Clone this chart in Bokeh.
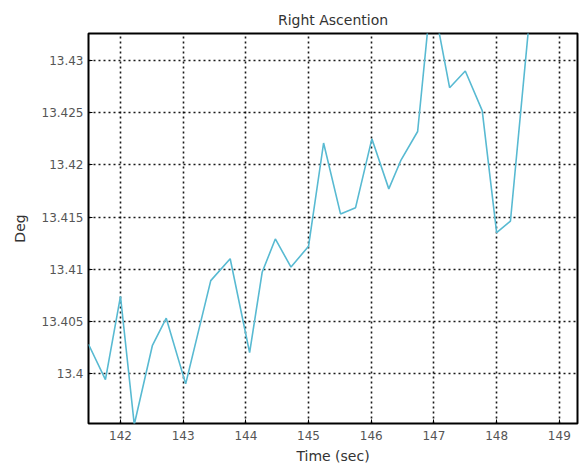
from bokeh.plotting import figure
from bokeh.models import FixedTicker, Range1d, ColumnDataSource
from bokeh.embed import file_html
from bokeh.resources import INLINE

time_sec = [141.49, 141.76, 142.00, 142.22, 142.51, 142.73, 143.04, 143.44, 143.75,
            144.06, 144.26, 144.47, 144.72, 145.00, 145.24, 145.51, 145.75, 146.01,
            146.28, 146.47, 146.74, 146.96, 147.25, 147.50, 147.77, 148.00, 148.22, 148.52]
ra_deg = [13.4028, 13.3994, 13.4074, 13.3951, 13.4027, 13.4053, 13.3990, 13.4089, 13.4110,
          13.4020, 13.4097, 13.4129, 13.4102, 13.4122, 13.4221, 13.4153, 13.4159, 13.4225,
          13.4177, 13.4204, 13.4232, 13.4366, 13.4274, 13.4290, 13.4252, 13.4135, 13.4146, 13.4338]

x_ticks = [142, 143, 144, 145, 146, 147, 148, 149]
y_ticks = [13.4, 13.405, 13.41, 13.415, 13.42, 13.425, 13.43]
y_tick_labels = ["13.4", "13.405", "13.41", "13.415", "13.42", "13.425", "13.43"]

src = ColumnDataSource(dict(t=time_sec, ra=ra_deg))

p = figure(width=579, height=466, output_backend="svg", toolbar_location=None,
           title="Right Ascention",
           x_range=Range1d(141.49, 149.29), y_range=Range1d(13.3952, 13.4326),
           min_border_left=88, min_border_right=2, min_border_top=33, min_border_bottom=2)

p.line("t", "ra", source=src, line_color="#58bad2", line_width=1.6)

FONT = "DejaVu Sans"
p.title.align = "center"
p.title.text_font = FONT
p.title.text_font_size = "14px"
p.title.text_font_style = "normal"
p.title.text_color = "#333333"
p.title.offset = 0
p.title.standoff = 11

p.outline_line_color = "black"
p.outline_line_width = 2
p.outline_line_alpha = 1.0

for ax in (p.xaxis, p.yaxis):
    ax.axis_line_color = None
    ax.major_tick_in = 4
    ax.major_tick_out = 0
    ax.minor_tick_line_color = None
    ax.major_tick_line_color = "black"
    ax.major_label_text_font = FONT
    ax.major_label_text_font_size = "12px"
    ax.major_label_text_color = "#555555"
    ax.axis_label_text_font = FONT
    ax.axis_label_text_font_size = "14px"
    ax.axis_label_text_font_style = "normal"
    ax.axis_label_text_color = "#333333"

p.xaxis.ticker = FixedTicker(ticks=x_ticks)
p.yaxis.ticker = FixedTicker(ticks=y_ticks)
p.yaxis.major_label_overrides = {t: s for t, s in zip(y_ticks, y_tick_labels)}
p.xaxis.axis_label = "Time (sec)"
p.yaxis.axis_label = "Deg"
p.xaxis.major_label_standoff = 7
p.yaxis.major_label_standoff = 5
p.xaxis.axis_label_standoff = 5
p.yaxis.axis_label_standoff = 11

for g in (p.xgrid, p.ygrid):
    g.grid_line_color = "black"
    g.grid_line_dash = "2 3"
    g.grid_line_width = 1.6
    g.grid_line_alpha = 0.9

p.background_fill_color = "white"
p.border_fill_color = "white"

open("out.html", "w").write(file_html(p, INLINE))
